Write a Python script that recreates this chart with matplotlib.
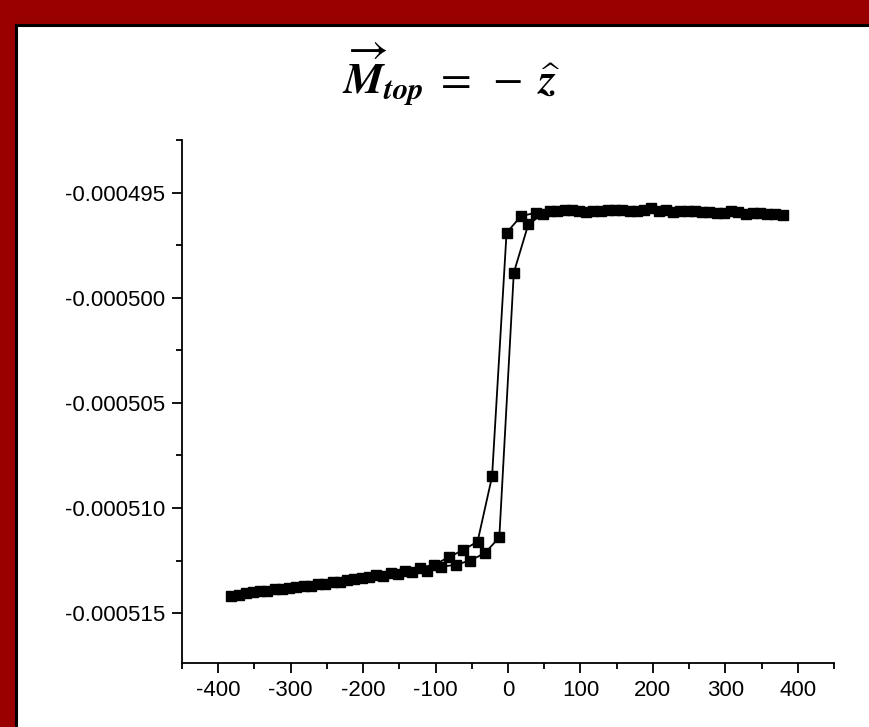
import matplotlib
matplotlib.use("Agg")
import matplotlib.pyplot as plt
from matplotlib.patches import Rectangle
from matplotlib.ticker import MultipleLocator, FuncFormatter

# Descending-field branch (values in 1e-6 units)
branch_a_x = [-382, -362, -342, -322, -302, -282, -262, -242, -222, -202, -182,
              -162, -142, -122, -102, -82, -62, -42, -22, -2, 18, 38, 58, 78,
              98, 118, 138, 158, 178, 198, 218, 238, 258, 278, 298, 318, 338,
              358, 380]
branch_a_y = [-514.2, -514.05, -513.95, -513.85, -513.8, -513.7, -513.6, -513.5,
              -513.45, -513.35, -513.2, -513.1, -513.0, -512.85, -512.7, -512.35,
              -512.0, -511.6, -508.5, -496.9, -496.1, -495.95, -495.85, -495.8,
              -495.85, -495.85, -495.8, -495.8, -495.85, -495.7, -495.8, -495.85,
              -495.85, -495.9, -495.95, -495.9, -495.95, -496.0, -496.05]
# Ascending-field branch
branch_b_x = [-372, -352, -332, -312, -292, -272, -252, -232, -212, -192, -172,
              -152, -132, -112, -92, -72, -52, -32, -12, 8, 28, 48, 68, 88,
              108, 128, 148, 168, 188, 208, 228, 248, 268, 288, 308, 328, 348,
              368]
branch_b_y = [-514.15, -514.0, -513.95, -513.85, -513.75, -513.7, -513.6, -513.5,
              -513.4, -513.3, -513.25, -513.15, -513.05, -513.0, -512.8, -512.7,
              -512.5, -512.15, -511.4, -498.8, -496.5, -496.0, -495.85, -495.8,
              -495.9, -495.85, -495.8, -495.85, -495.8, -495.85, -495.9, -495.85,
              -495.9, -495.95, -495.85, -496.0, -495.95, -496.0]

x_ticks = [-400, -300, -200, -100, 0, 100, 200, 300, 400]
y_ticks = [-0.000495, -0.000500, -0.000505, -0.000510, -0.000515]

W, H = 870, 727
fig = plt.figure(figsize=(W / 100, H / 100), dpi=100)
fig.patch.set_facecolor('#990000')

bg = fig.add_axes([0, 0, 1, 1], zorder=-5)
bg.set_xlim(0, W)
bg.set_ylim(H, 0)
bg.axis('off')
bg.add_patch(Rectangle((16, 25), W, H, facecolor='white', edgecolor='black',
                       linewidth=2.2))

ax = fig.add_axes([182 / W, 1 - 663 / H, (834 - 182) / W, (663 - 140) / H])
ax.set_facecolor('none')

ya = [v * 1e-6 for v in branch_a_y]
yb = [v * 1e-6 for v in branch_b_y]
for xs, ys in ((branch_a_x, ya), (branch_b_x, yb)):
    ax.plot(xs, ys, color='black', linewidth=1.3, marker='s', markersize=7.5,
            markerfacecolor='black', markeredgecolor='black', clip_on=False)

ax.set_xlim(-450, 450)
ax.set_ylim(-0.00051738, -0.00049248)
ax.set_xticks(x_ticks)
ax.set_yticks(y_ticks)
ax.xaxis.set_minor_locator(MultipleLocator(50))
ax.yaxis.set_minor_locator(MultipleLocator(0.0000025))
ax.yaxis.set_major_formatter(FuncFormatter(lambda v, p: f"{v:.6f}"))
ax.xaxis.set_major_formatter(FuncFormatter(lambda v, p: f"{v:.0f}"))
for s in ('top', 'right'):
    ax.spines[s].set_visible(False)
for s in ('left', 'bottom'):
    ax.spines[s].set_linewidth(1.3)
ax.tick_params(which='major', direction='out', length=7, width=1.3,
               labelsize=16, pad=5)
ax.tick_params(which='minor', direction='out', length=4, width=1.3)
for lab in ax.get_xticklabels() + ax.get_yticklabels():
    lab.set_fontfamily('Liberation Sans')

plt.rcParams['mathtext.fontset'] = 'stix'
fig.text(451 / W, 1 - 74 / H,
         r'$\overrightarrow{\mathbfit{M}}_{\mathbfit{top}}\;=\;-\;\widehat{\mathbfit{z}}$',
         ha='center', va='center', fontsize=32)

fig.savefig('out.png', dpi=100, facecolor=fig.get_facecolor())
